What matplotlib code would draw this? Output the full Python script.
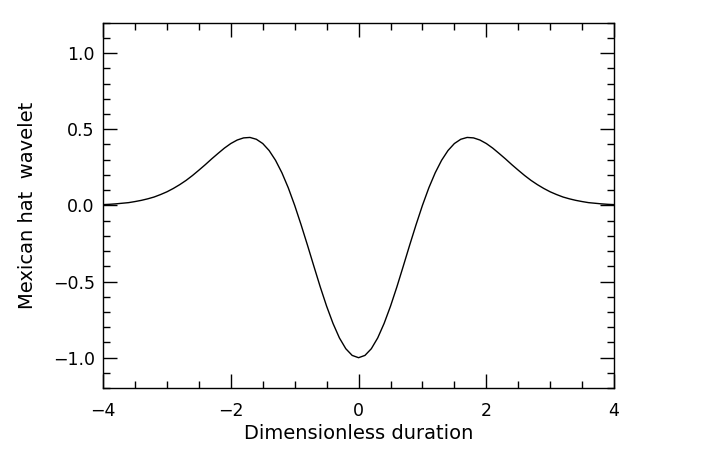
import matplotlib
matplotlib.use("Agg")
import matplotlib.pyplot as plt
from matplotlib.ticker import MultipleLocator

# values
t = [-4.0, -3.9, -3.8, -3.7, -3.6, -3.5, -3.4, -3.3, -3.2, -3.1,
     -3.0, -2.9, -2.8, -2.7, -2.6, -2.5, -2.4, -2.3, -2.2, -2.1,
     -2.0, -1.9, -1.8, -1.7, -1.6, -1.5, -1.4, -1.3, -1.2, -1.1,
     -1.0, -0.9, -0.8, -0.7, -0.6, -0.5, -0.4, -0.3, -0.2, -0.1,
     0.0, 0.1, 0.2, 0.3, 0.4, 0.5, 0.6, 0.7, 0.8, 0.9,
     1.0, 1.1, 1.2, 1.3, 1.4, 1.5, 1.6, 1.7, 1.8, 1.9,
     2.0, 2.1, 2.2, 2.3, 2.4, 2.5, 2.6, 2.7, 2.8, 2.9,
     3.0, 3.1, 3.2, 3.3, 3.4, 3.5, 3.6, 3.7, 3.8, 3.9, 4.0]
wavelet = [0.005, 0.007, 0.010, 0.014, 0.018, 0.025, 0.033, 0.043, 0.055, 0.071,
           0.089, 0.111, 0.136, 0.164, 0.196, 0.231, 0.267, 0.305, 0.341, 0.376,
           0.406, 0.429, 0.443, 0.446, 0.434, 0.406, 0.360, 0.296, 0.214, 0.115,
           0.000, -0.127, -0.261, -0.399, -0.535, -0.662, -0.775, -0.870, -0.941, -0.985,
           -1.000, -0.985, -0.941, -0.870, -0.775, -0.662, -0.535, -0.399, -0.261, -0.127,
           0.000, 0.115, 0.214, 0.296, 0.360, 0.406, 0.434, 0.446, 0.443, 0.429,
           0.406, 0.376, 0.341, 0.305, 0.267, 0.231, 0.196, 0.164, 0.136, 0.111,
           0.089, 0.071, 0.055, 0.043, 0.033, 0.025, 0.018, 0.014, 0.010, 0.007, 0.005]

plt.rcParams['font.family'] = ['DejaVu Sans']
plt.rcParams['font.size'] = 12

fig = plt.figure(figsize=(7.01, 4.61), dpi=100)
ax = fig.add_axes([0.147, 0.158, 0.729, 0.793])

ax.plot(t, wavelet, color='black', linewidth=1.0)
ax.set_xlim(-4, 4)
ax.set_ylim(-1.2, 1.2)

ax.xaxis.set_major_locator(MultipleLocator(2))
ax.xaxis.set_minor_locator(MultipleLocator(0.5))
ax.yaxis.set_major_locator(MultipleLocator(0.5))
ax.yaxis.set_minor_locator(MultipleLocator(0.1))
ax.yaxis.set_major_formatter(plt.FuncFormatter(lambda v, p: ('%.1f' % v).replace('-', '\u2212')))

ax.tick_params(which='both', direction='in', top=True, right=True, width=1.0, colors='black')
ax.tick_params(which='major', length=10)
ax.tick_params(which='minor', length=5)
ax.tick_params(axis='x', which='major', pad=10, labelsize=12.5)
ax.tick_params(axis='y', which='major', pad=6, labelsize=12.5)
for s in ax.spines.values():
    s.set_linewidth(1.0)

ax.set_xlabel('Dimensionless duration', fontsize=14, labelpad=3)
ax.set_ylabel('Mexican hat  wavelet', fontsize=14, labelpad=11)

fig.savefig('out.png', dpi=100)
